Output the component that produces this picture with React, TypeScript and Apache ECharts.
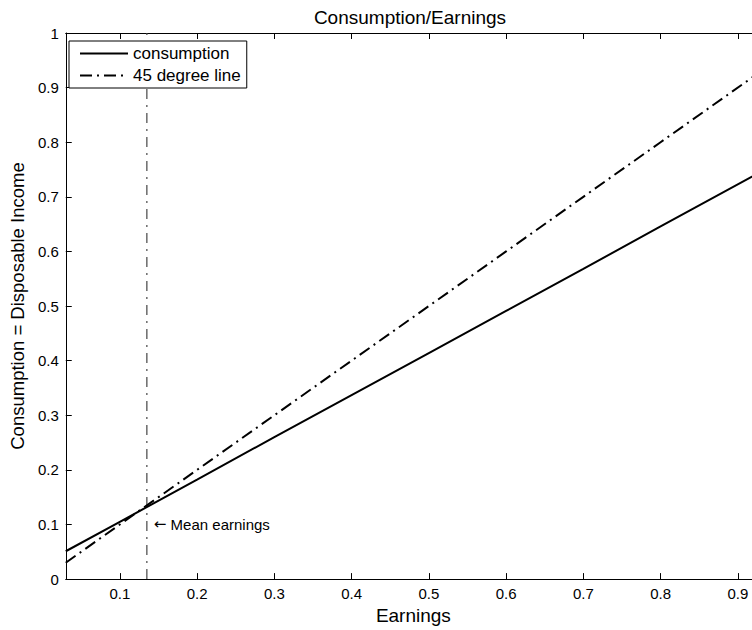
import React, { useEffect, useRef } from "react";
import * as echarts from "echarts";

const earnings = [0.03, 0.1, 0.2, 0.3, 0.4, 0.5, 0.6, 0.7, 0.8, 0.93];
const consumption = [0.051, 0.105, 0.182, 0.26, 0.337, 0.414, 0.491, 0.568, 0.646, 0.746];
const degree45 = [0.03, 0.1, 0.2, 0.3, 0.4, 0.5, 0.6, 0.7, 0.8, 0.93];
const meanEarnings = 0.135;
const meanLineY = [0, 1];
const xRange = [0.03, 0.93];
const yRange = [0, 1];

const FONT = "'Liberation Sans', Arial, Helvetica, sans-serif";

export default function App() {
  const ref = useRef<HTMLDivElement>(null);
  useEffect(() => {
    if (!ref.current) return;
    const chart = echarts.init(ref.current, undefined, { renderer: "svg" });
    const tickStyle = { show: true, inside: true, length: 6, lineStyle: { color: "#000", width: 1 } };
    const xCommon = {
      type: "value",
      min: xRange[0],
      max: xRange[1],
      minInterval: 0.1,
      maxInterval: 0.1,
      splitNumber: 9,
      splitLine: { show: false },
      axisLine: { show: true, lineStyle: { color: "#000", width: 1 } },
      axisTick: tickStyle,
    };
    const meanLabel = {
      show: true,
      position: "right",
      distance: 7,
      formatter: "{a|\u2190} Mean earnings",
      fontFamily: FONT,
      fontSize: 15,
      color: "#000",
      rich: { a: { fontFamily: "'DejaVu Sans', sans-serif", fontSize: 15, color: "#000" } },
    };
    chart.setOption({
      animation: false,
      textStyle: { fontFamily: FONT, color: "#000" },
      title: {
        text: "Consumption/Earnings",
        left: "center",
        top: 3,
        textStyle: { fontFamily: FONT, fontSize: 19, fontWeight: "normal", color: "#000" },
      },
      legend: {
        data: ["consumption", "45 degree line"],
        orient: "vertical",
        left: 69,
        top: 41,
        itemWidth: 48,
        itemHeight: 14,
        itemGap: 5,
        padding: [4, 6, 4, 10],
        borderColor: "#000",
        borderWidth: 1,
        borderRadius: 0,
        backgroundColor: "#fff",
        itemStyle: { opacity: 0 },
        textStyle: { fontFamily: FONT, fontSize: 17, color: "#000" },
      },
      grid: { left: 62, top: 33, width: 699, height: 550 },
      xAxis: [
        {
          ...xCommon,
          position: "bottom",
          name: "Earnings",
          nameLocation: "middle",
          nameGap: 23,
          nameTextStyle: { fontFamily: FONT, fontSize: 19, color: "#000", verticalAlign: "top" },
          axisLabel: { show: true, margin: 7, fontSize: 15, color: "#000", fontFamily: FONT, showMinLabel: false, showMaxLabel: false },
        },
        {
          ...xCommon,
          position: "top",
          axisLabel: { show: false },
        },
      ],
      yAxis: {
        type: "value",
        min: yRange[0],
        max: yRange[1],
        interval: 0.1,
        splitLine: { show: false },
        axisLine: { show: true, lineStyle: { color: "#000", width: 1 } },
        axisTick: tickStyle,
        axisLabel: { margin: 7, fontSize: 15, color: "#000", fontFamily: FONT },
        name: "Consumption = Disposable Income",
        nameLocation: "middle",
        nameGap: 34,
        nameTextStyle: { fontFamily: FONT, fontSize: 18.5, color: "#000" },
      },
      series: [
        {
          name: "consumption",
          type: "line",
          symbol: "none",
          data: earnings.map((x, i) => [x, consumption[i]]),
          lineStyle: { color: "#000", width: 2, type: "solid" },
          itemStyle: { color: "#000" },
          z: 3,
        },
        {
          name: "45 degree line",
          type: "line",
          symbol: "none",
          data: earnings.map((x, i) => [x, degree45[i]]),
          lineStyle: { color: "#000", width: 2, type: [12, 5, 2, 5] },
          itemStyle: { color: "#000" },
          z: 3,
        },
        {
          name: "mean",
          type: "line",
          symbol: "none",
          data: meanLineY.map((y) => [meanEarnings, y]),
          lineStyle: { color: "#444", width: 1.2, type: [10, 6, 2, 6] },
          itemStyle: { color: "#444" },
          z: 2,
          markPoint: {
            symbol: "circle",
            symbolSize: 0,
            data: [{ coord: [meanEarnings, 0.1], label: meanLabel }],
            label: meanLabel,
          },
        },
      ],
    });
    return () => chart.dispose();
  }, []);
  return (
    <div style={{ position: "fixed", left: 0, top: 0, width: 752, height: 630, overflow: "hidden", background: "#fff" }}>
      <div ref={ref} style={{ width: 820, height: 630 }} />
    </div>
  );
}
